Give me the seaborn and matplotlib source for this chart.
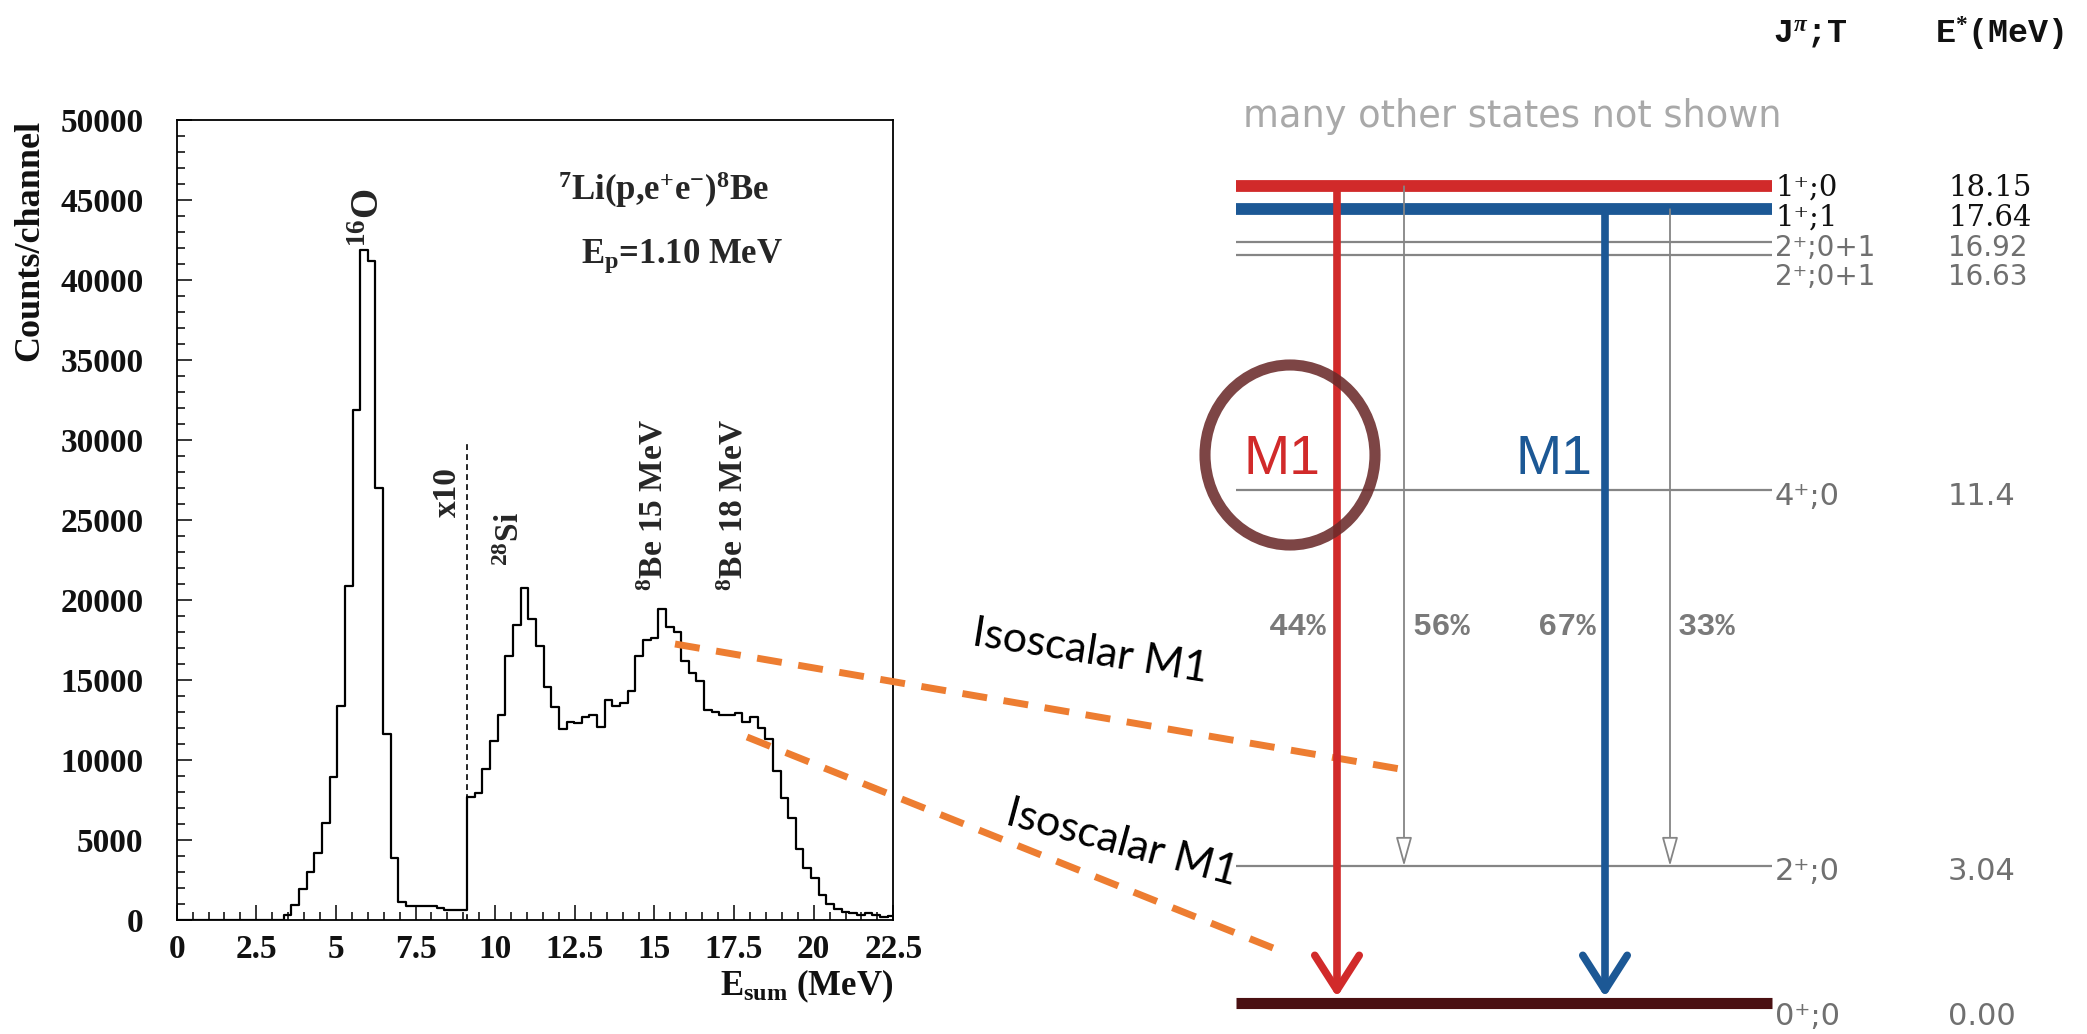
import numpy as np
import pandas as pd
import matplotlib
matplotlib.use("Agg")
import matplotlib.pyplot as plt
import seaborn as sns
from matplotlib.ticker import MultipleLocator, FormatStrFormatter
from matplotlib.patches import Ellipse

sns.set_theme(style="white")
plt.rcParams["font.family"] = ["Liberation Serif", "DejaVu Sans"]
plt.rcParams["font.weight"] = "bold"
plt.rcParams["mathtext.fontset"] = "custom"
plt.rcParams["mathtext.rm"] = "Liberation Serif:bold"
plt.rcParams["mathtext.it"] = "Liberation Serif:italic:bold"
plt.rcParams["mathtext.bf"] = "Liberation Serif:bold"
plt.rcParams["mathtext.sf"] = "DejaVu Sans"

# ---------------- spectrum: 7Li(p,e+e-)8Be, E_sum histogram ----------------
bin_edges = [round(0.24 * i, 2) for i in range(94)] + [22.5]
counts_low = [0] * 14 + [
    300, 950, 1920, 2980, 4210, 6040, 8920, 13400, 20900, 31900, 41900, 41200,
    27000, 11600, 3850, 1150, 880, 870, 860, 850, 780, 640, 630, 630,
]
# channels above 9.12 MeV are shown multiplied by 10
counts_x10 = [
    7710, 7960, 9420, 11210, 12810, 16500, 18440, 20730, 18790, 17125,
    14580, 13330, 11920, 12400, 12290, 12670, 12810, 12080, 13750, 13375,
    13580, 14330, 16520, 17500, 17600, 19420, 18330, 18020, 16210, 15420,
    14940, 13140, 12970, 12820, 12820, 12920, 12400, 12670, 11970, 11330,
    9320, 7630, 6360, 4450, 3280, 2650, 1560, 1000, 660, 520,
    420, 310, 420, 310, 170, 240,
]
counts = counts_low + counts_x10
scale_edge = bin_edges[len(counts_low)]
bin_centers = [0.5 * (a + b) for a, b in zip(bin_edges[:-1], bin_edges[1:])]
spectrum = pd.DataFrame({"E_sum": bin_centers, "counts": counts})

# ---------------- 8Be level scheme ----------------
level_E = [18.15, 17.64, 16.92, 16.63, 11.4, 3.04, 0.00]
level_jpi = ["1\u207a;0", "1\u207a;1", "2\u207a;0+1", "2\u207a;0+1",
             "4\u207a;0", "2\u207a;0", "0\u207a;0"]
level_text = ["18.15", "17.64", "16.92", "16.63", "11.4", "3.04", "0.00"]
trans_from = [18.15, 18.15, 17.64, 17.64]
trans_to = [0.00, 3.04, 0.00, 3.04]
branching = ["44%", "56%", "67%", "33%"]

W, H = 2087, 1034
fig = plt.figure(figsize=(W / 100, H / 100), dpi=100)
fig.patch.set_facecolor("white")

# ---------------- histogram panel ----------------
ax_h = fig.add_axes([176.7 / W, 1 - 920 / H, 716.6 / W, 800 / H])
ax_h.set_zorder(1)
sns.histplot(data=spectrum, x="E_sum", weights="counts", bins=bin_edges,
             element="step", fill=False, color="black", linewidth=1.6, ax=ax_h)
ax_h.vlines(scale_edge, 0, 30000, colors="black", linewidth=1.2,
            linestyles=(0, (3.5, 2.5)))
ax_h.set_xlim(0, 22.5)
ax_h.set_ylim(0, 50000)
ax_h.set_xlabel("")
ax_h.set_ylabel("")
ax_h.xaxis.set_major_locator(MultipleLocator(2.5))
ax_h.xaxis.set_minor_locator(MultipleLocator(0.5))
ax_h.yaxis.set_major_locator(MultipleLocator(5000))
ax_h.yaxis.set_minor_locator(MultipleLocator(1000))
ax_h.xaxis.set_major_formatter(FormatStrFormatter("%g"))
ax_h.yaxis.set_major_formatter(FormatStrFormatter("%d"))
ax_h.tick_params(which="both", direction="in", top=False, right=False,
                 left=True, bottom=True, color="black", width=1.1)
ax_h.tick_params(which="major", length=11)
ax_h.tick_params(which="minor", length=6)
ax_h.tick_params(axis="x", which="major", pad=10, labelsize=24, labelcolor="#111")
ax_h.tick_params(axis="y", which="major", pad=24, labelsize=24, labelcolor="#111")
for sp in ax_h.spines.values():
    sp.set_color("black")
    sp.set_linewidth(1.3)

ax_h.text(6.04, 42060, "$^{16}$O", rotation=90, ha="center", va="bottom", fontsize=28)
ax_h.text(8.49, 25190, "x10", rotation=90, ha="center", va="bottom", fontsize=24)
ax_h.text(10.47, 22125, "$^{28}$Si", rotation=90, ha="center", va="bottom", fontsize=24)
ax_h.text(14.99, 20560, "$^{8}$Be 15 MeV", rotation=90, ha="center", va="bottom", fontsize=24)
ax_h.text(17.5, 20560, "$^{8}$Be 18 MeV", rotation=90, ha="center", va="bottom", fontsize=24)
ax_h.text(15.3, 45000, "$^{7}$Li(p,e$^{+}$e$^{-}$)$^{8}$Be", ha="center", va="baseline", fontsize=25)
ax_h.text(15.86, 41060, "E$_{\\rm p}$=1.10 MeV", ha="center", va="baseline", fontsize=25)

fig.text(30 / W, 1 - 120 / H, "Counts/channel", rotation=90, ha="center", va="top",
         fontsize=26, color="#111")
fig.text(893 / W, 1 - 995 / H, "E$_{\\rm sum}$ (MeV)", ha="right", va="baseline",
         fontsize=25, color="#111")

# ---------------- connector overlay (pixel coordinates) ----------------
ax_o = fig.add_axes([0, 0, 1, 1])
ax_o.set_zorder(2)
ax_o.patch.set_visible(False)
ax_o.set_xlim(0, W)
ax_o.set_ylim(H, 0)
ax_o.axis("off")
orange = "#ED7D31"
ax_o.plot([675, 1400], [644, 769], color=orange, lw=5, linestyle=(0, (3.6, 2.4)))
ax_o.plot([747, 1283], [737, 952], color=orange, lw=5, linestyle=(0, (3.6, 2.4)))
ax_o.text(1090, 652, "Isoscalar M1", rotation=-9, rotation_mode="anchor",
          ha="center", va="center", fontsize=31, fontweight="normal",
          family=["Lato", "DejaVu Sans"], color="black")
ax_o.text(1122, 843, "Isoscalar M1", rotation=-15, rotation_mode="anchor",
          ha="center", va="center", fontsize=31, fontweight="normal",
          family=["Lato", "DejaVu Sans"], color="black")

# ---------------- level diagram (x in pixels, y in MeV) ----------------
ax_r = fig.add_axes([0, 0, 1, 1])
ax_r.set_zorder(3)
ax_r.patch.set_visible(False)
ax_r.set_xlim(0, W)
ax_r.set_ylim(-31 / 45, 1003 / 45)
ax_r.axis("off")


def px_to_E(y):
    return (1003 - y) / 45.0


red, blue, ground, gray = "#D12A2A", "#1C5895", "#4A1012", "#858585"
lvl_colors = [red, blue, gray, gray, gray, gray, ground]
lvl_widths = [8.5, 8.5, 1.6, 1.6, 1.6, 1.6, 8.0]
txt_colors = ["#111111", "#111111", "#707070", "#707070", "#707070", "#707070", "#707070"]
txt_family = ["DejaVu Serif", "DejaVu Serif", "DejaVu Sans", "DejaVu Sans",
              "DejaVu Sans", "DejaVu Sans", "DejaVu Sans"]
txt_size = [21, 21, 20, 20, 22, 22, 22]
# label baselines (pixels from the top) so the crowded labels stack cleanly
label_base_px = [196, 226, 256, 285, 505, 880, 1025]

for E, c, lw in zip(level_E, lvl_colors, lvl_widths):
    ax_r.hlines(E, 1236, 1772, colors=c, linewidth=lw, zorder=2)

for jpi, et, tc, fam, fs, yb in zip(level_jpi, level_text, txt_colors, txt_family,
                                     txt_size, label_base_px):
    ylab = px_to_E(yb)
    ax_r.text(1775, ylab, jpi, ha="left", va="baseline", fontsize=fs,
              fontweight="normal", family=[fam, "DejaVu Sans"], color=tc)
    ax_r.text(1948, ylab, et, ha="left", va="baseline", fontsize=fs,
              fontweight="normal", family=[fam, "DejaVu Sans"], color=tc)

ax_r.text(1773, px_to_E(43), "J$^{\\pi}$;T", ha="left", va="baseline", fontsize=24,
          family=["Liberation Mono"], fontweight="bold", color="#111")
ax_r.text(1935, px_to_E(43), "E$^{*}$(MeV)", ha="left", va="baseline", fontsize=24,
          family=["Liberation Mono"], fontweight="bold", color="#111")
ax_r.text(1243, px_to_E(127), "many other states not shown", ha="left", va="baseline",
          fontsize=26.5, fontweight="normal", family=["DejaVu Sans"], color="#a9a9a9")

trans_x = [1337, 1404, 1605, 1670]
ground_top = 0.13
for x, E0, E1 in zip(trans_x, trans_from, trans_to):
    if E1 == 0.0:
        col = red if E0 == level_E[0] else blue
        ax_r.annotate("", xy=(x, E1 + ground_top), xytext=(x, E0),
                      arrowprops=dict(arrowstyle="->,head_length=1.25,head_width=0.8",
                                      color=col, lw=5.5, shrinkA=0, shrinkB=0,
                                      mutation_scale=20), zorder=4)
    else:
        ax_r.annotate("", xy=(x, E1), xytext=(x, E0),
                      arrowprops=dict(arrowstyle="-|>,head_length=0.9,head_width=0.25",
                                      facecolor="white", edgecolor=gray, lw=1.3,
                                      shrinkA=0, shrinkB=0, mutation_scale=20), zorder=3)

pct_pos = [(1327, "right"), (1412, "left"), (1596, "right"), (1678, "left")]
for (x, ha), pct in zip(pct_pos, branching):
    ax_r.text(x, px_to_E(627), pct, ha=ha, va="center", fontsize=23,
              family=["Liberation Mono"], fontweight="bold", color="#7a7a7a")

ax_r.text(1321, px_to_E(460), "M1", ha="right", va="center", fontsize=40,
          fontweight="normal", family=["Liberation Sans"], color=red)
ax_r.text(1593, px_to_E(460), "M1", ha="right", va="center", fontsize=40,
          fontweight="normal", family=["Liberation Sans"], color=blue)
ax_r.add_patch(Ellipse((1290, px_to_E(455)), 170, 180 / 45.0, fill=False,
                       edgecolor="#6b2b2b", linewidth=8, alpha=0.88, zorder=6))

fig.savefig("out.png", dpi=100, facecolor="white")
